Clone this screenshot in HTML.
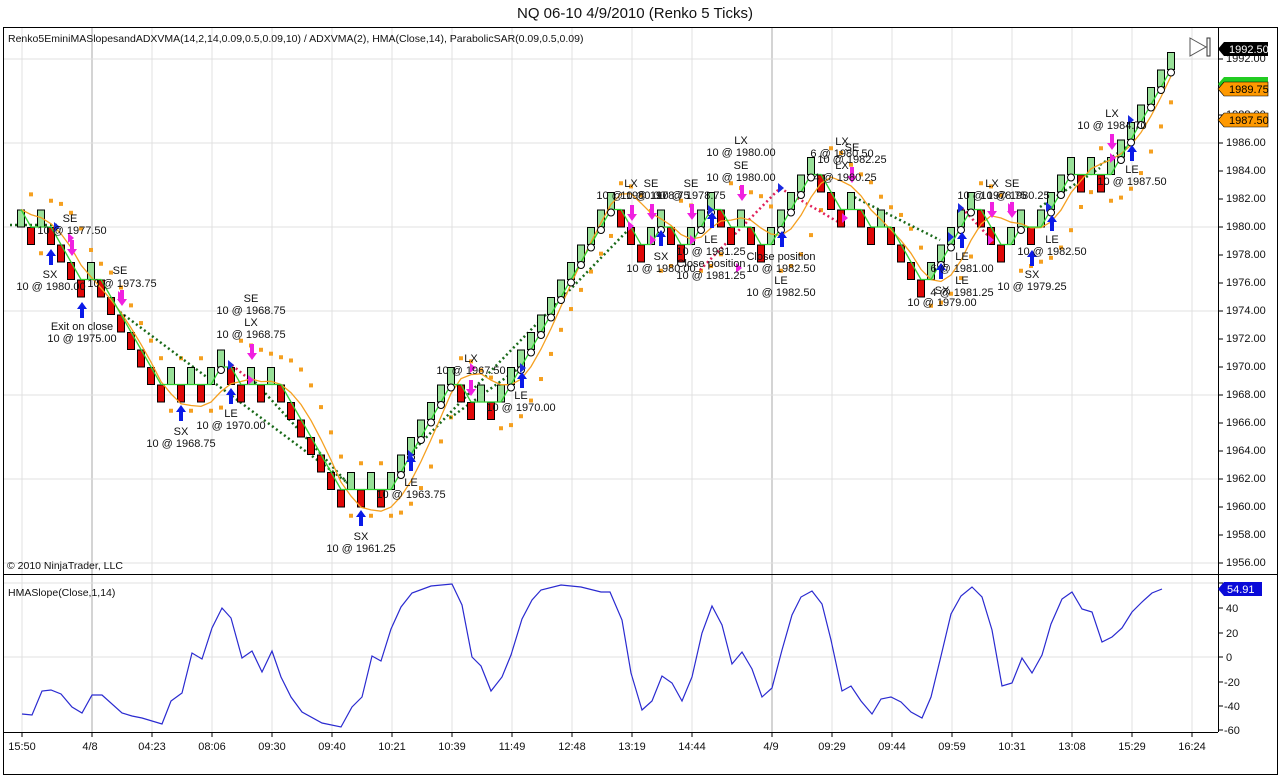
<!DOCTYPE html>
<html><head><meta charset="utf-8"><style>
html,body{margin:0;padding:0;background:#fff;}
svg{display:block;font-family:"Liberation Sans",Arial,sans-serif;}
.t{font-size:11px;fill:#111;text-anchor:middle;}
.a{font-size:10.5px;fill:#111;}
</style></head><body>
<svg id="s" width="1280" height="776" viewBox="0 0 1280 776" xmlns="http://www.w3.org/2000/svg">
<rect x="0" y="0" width="1280" height="776" fill="#fff"/>
<text x="635" y="18" font-size="15" text-anchor="middle" fill="#111">NQ 06-10  4/9/2010 (Renko 5 Ticks)</text>
<g id="grid"></g>
<g id="plot"></g>
<g id="ann">
<text class="t" x="70" y="222">SE</text><text class="t" x="72" y="234">10 @ 1977.50</text>
<text class="t" x="50" y="278">SX</text><text class="t" x="51" y="290">10 @ 1980.00</text>
<text class="t" x="120" y="274">SE</text><text class="t" x="122" y="287">10 @ 1973.75</text>
<text class="t" x="82" y="330">Exit on close</text><text class="t" x="82" y="342">10 @ 1975.00</text>
<text class="t" x="251" y="302">SE</text><text class="t" x="251" y="314">10 @ 1968.75</text>
<text class="t" x="251" y="326">LX</text><text class="t" x="251" y="338">10 @ 1968.75</text>
<text class="t" x="181" y="435">SX</text><text class="t" x="181" y="447">10 @ 1968.75</text>
<text class="t" x="231" y="417">LE</text><text class="t" x="231" y="429">10 @ 1970.00</text>
<text class="t" x="361" y="540">SX</text><text class="t" x="361" y="552">10 @ 1961.25</text>
<text class="t" x="411" y="486">LE</text><text class="t" x="411" y="498">10 @ 1963.75</text>
<text class="t" x="471" y="362">LX</text><text class="t" x="471" y="374">10 @ 1967.50</text>
<text class="t" x="521" y="399">LE</text><text class="t" x="521" y="411">10 @ 1970.00</text>
<text class="t" x="631" y="187">LX</text><text class="t" x="651" y="187">SE</text>
<text class="t" x="631" y="199">10 @ 1980.00</text><text class="t" x="655" y="199">10 @ 1978.75</text>
<text class="t" x="691" y="187">SE</text><text class="t" x="691" y="199">10 @ 1978.75</text>
<text class="t" x="661" y="260">SX</text><text class="t" x="661" y="272">10 @ 1980.00</text>
<text class="t" x="711" y="243">LE</text><text class="t" x="711" y="255">10 @ 1981.25</text>
<text class="t" x="711" y="267">Close position</text><text class="t" x="711" y="279">10 @ 1981.25</text>
<text class="t" x="741" y="144">LX</text><text class="t" x="741" y="156">10 @ 1980.00</text>
<text class="t" x="741" y="169">SE</text><text class="t" x="741" y="181">10 @ 1980.00</text>
<text class="t" x="781" y="260">Close position</text><text class="t" x="781" y="272">10 @ 1982.50</text>
<text class="t" x="781" y="284">LE</text><text class="t" x="781" y="296">10 @ 1982.50</text>
<text class="t" x="842" y="145">LX</text><text class="t" x="852" y="151">SE</text>
<text class="t" x="842" y="157">6 @ 1980.50</text><text class="t" x="852" y="163">10 @ 1982.25</text>
<text class="t" x="842" y="169">LX</text><text class="t" x="845" y="181">4 @ 1980.25</text>
<text class="t" x="992" y="187">LX</text><text class="t" x="1012" y="187">SE</text>
<text class="t" x="992" y="199">10 @ 1978.75</text><text class="t" x="1015" y="199">10 @ 1980.25</text>
<text class="t" x="962" y="260">LE</text><text class="t" x="962" y="272">6 @ 1981.00</text>
<text class="t" x="962" y="284">LE</text><text class="t" x="962" y="296">4 @ 1981.25</text>
<text class="t" x="942" y="294">SX</text><text class="t" x="942" y="306">10 @ 1979.00</text>
<text class="t" x="1032" y="278">SX</text><text class="t" x="1032" y="290">10 @ 1979.25</text>
<text class="t" x="1052" y="243">LE</text><text class="t" x="1052" y="255">10 @ 1982.50</text>
<text class="t" x="1112" y="117">LX</text><text class="t" x="1112" y="129">10 @ 1984.70</text>
<text class="t" x="1132" y="173">LE</text><text class="t" x="1132" y="185">10 @ 1987.50</text>
</g>
<g id="axes"></g>
<text class="a" x="8" y="42">Renko5EminiMASlopesandADXVMA(14,2,14,0.09,0.5,0.09,10) / ADXVMA(2), HMA(Close,14), ParabolicSAR(0.09,0.5,0.09)</text>
<text class="a" x="7" y="569">© 2010 NinjaTrader, LLC</text>
<text class="a" x="8" y="596">HMASlope(Close,1,14)</text>
<g font-size="11" fill="#111" text-anchor="middle">
<text x="22" y="750">15:50</text><text x="90" y="750">4/8</text><text x="152" y="750">04:23</text>
<text x="212" y="750">08:06</text><text x="272" y="750">09:30</text><text x="332" y="750">09:40</text>
<text x="392" y="750">10:21</text><text x="452" y="750">10:39</text><text x="512" y="750">11:49</text>
<text x="572" y="750">12:48</text><text x="632" y="750">13:19</text><text x="692" y="750">14:44</text>
<text x="771" y="750">4/9</text><text x="832" y="750">09:29</text><text x="892" y="750">09:44</text>
<text x="952" y="750">09:59</text><text x="1012" y="750">10:31</text><text x="1072" y="750">13:08</text>
<text x="1132" y="750">15:29</text><text x="1192" y="750">16:24</text>
</g>
<g font-size="11" fill="#111">
<text x="1226" y="62">1992.00</text><text x="1226" y="90">1990.00</text><text x="1226" y="118">1988.00</text>
<text x="1226" y="146">1986.00</text><text x="1226" y="174">1984.00</text><text x="1226" y="202">1982.00</text>
<text x="1226" y="230">1980.00</text><text x="1226" y="258">1978.00</text><text x="1226" y="286">1976.00</text>
<text x="1226" y="314">1974.00</text><text x="1226" y="342">1972.00</text><text x="1226" y="370">1970.00</text>
<text x="1226" y="398">1968.00</text><text x="1226" y="426">1966.00</text><text x="1226" y="454">1964.00</text>
<text x="1226" y="482">1962.00</text><text x="1226" y="510">1960.00</text><text x="1226" y="538">1958.00</text>
<text x="1226" y="566">1956.00</text>
<text x="1226" y="612">40</text><text x="1226" y="637">20</text><text x="1226" y="661">0</text>
<text x="1224" y="686">-20</text><text x="1224" y="710">-40</text><text x="1224" y="734">-60</text>
</g>
<path d="M1218,49 L1224,42 L1268,42 L1268,56 L1224,56 Z" fill="#000"/>
<text x="1229" y="53" font-size="11" fill="#fff">1992.50</text>
<path d="M1218,84 L1224,77 L1268,77 L1268,91 L1224,91 Z" fill="#2c2"/>
<path d="M1218,89 L1224,82 L1268,82 L1268,96 L1224,96 Z" fill="#f90" stroke="#000" stroke-width="0.6"/>
<text x="1229" y="93" font-size="11" fill="#000">1989.75</text>
<path d="M1218,120 L1224,113 L1268,113 L1268,127 L1224,127 Z" fill="#f90" stroke="#000" stroke-width="0.6"/>
<text x="1229" y="124" font-size="11" fill="#000">1987.50</text>
<path d="M1218,589 L1224,582 L1262,582 L1262,596 L1224,596 Z" fill="#0a0ad8"/>
<text x="1227" y="593" font-size="11" fill="#fff">54.91</text>
<path d="M1190,38 L1206,47 L1190,56 Z" fill="#fff" stroke="#555" stroke-width="1"/>
<rect x="1207" y="38" width="3" height="18" fill="#fff" stroke="#333" stroke-width="1"/>
</svg>
<script>
var NS="http://www.w3.org/2000/svg";
function el(p,t,a){var e=document.createElementNS(NS,t);for(var k in a)e.setAttribute(k,a[k]);p.appendChild(e);return e;}
var grid=document.getElementById('grid'),plot=document.getElementById('plot'),axes=document.getElementById('axes');
var vx=[22,92,152,212,272,332,392,452,512,572,632,692,772,832,892,952,1012,1072,1132,1192];
vx.forEach(function(x){var d=(x==92||x==772);el(grid,'line',{x1:x,y1:27,x2:x,y2:732,stroke:d?'#a8a8a8':'#e0e0e0','stroke-width':1});
 el(axes,'line',{x1:x,y1:732,x2:x,y2:737,stroke:'#000'});});
[59,143,227,311,395,479,563].forEach(function(y){el(grid,'line',{x1:3,y1:y,x2:1218,y2:y,stroke:'#e0e0e0'});});
[583,657].forEach(function(y){el(grid,'line',{x1:3,y1:y,x2:1218,y2:y,stroke:'#e0e0e0'});});
el(axes,'rect',{x:3.5,y:27.5,width:1274,height:747,fill:'none',stroke:'#000'});
el(axes,'line',{x1:3,y1:574.5,x2:1278,y2:574.5,stroke:'#000'});
el(axes,'line',{x1:1218.5,y1:27,x2:1218.5,y2:732,stroke:'#000'});
el(axes,'line',{x1:3,y1:732.5,x2:1218,y2:732.5,stroke:'#000'});
for(var p=1956;p<=1992;p+=2){var y=59+(1992-p)*14;el(axes,'line',{x1:1218,y1:y,x2:1223,y2:y,stroke:'#000'});}
[583,608,633,657,682,706,730].forEach(function(y){el(axes,'line',{x1:1218,y1:y,x2:1223,y2:y,stroke:'#000'});});
var s="G0 R-1 G0 R-1 R-2 R-3 R-4 G-3 R-4 R-5 R-6 R-7 R-8 R-9 R-10 G-9 R-10 G-9 R-10 G-9 G-8 R-9 R-10 G-9 R-10 G-9 R-10 R-11 R-12 R-13 R-14 R-15 R-16 G-15 R-16 G-15 R-16 G-15 G-14 G-13 G-12 G-11 G-10 G-9 R-10 R-11 G-10 R-11 G-10 G-9 G-8 G-7 G-6 G-5 G-4 G-3 G-2 G-1 "+
"G0 G1 R0 R-1 R-2 G-1 G0 R-1 R-2 G-1 G0 G1 R0 R-1 G0 R-1 R-2 G-1 G0 G1 G2 G3 R2 R1 R0 G1 R0 R-1 G0 R-1 "+
"R-2 R-3 R-4 G-3 G-2 G-1 G0 G1 R0 R-1 R-2 G-1 G0 R-1 G0 G1 G2 G3 R2 G3 R2 G3 G4 G5 G6 G7 G8 G9";
var B=s.split(' ').map(function(t){return {g:t[0]=='G',L:parseInt(t.slice(1))};});
function Y(b){return 227-17.5*b;}
var n=B.length,X=[],C=[],H=[],Lo=[];
for(var i=0;i<n;i++){X[i]=21+10*i;var b=B[i];C[i]=b.g?b.L+1:b.L;H[i]=b.L+1;Lo[i]=b.L;}
var up=false,af=0.09,ep=Lo[0],sar=H[0]+0.5,ps=[];
for(var i=1;i<n;i++){
 sar=sar+af*(ep-sar);
 if(up){ if(Lo[i]<sar){up=false;sar=ep;ep=Lo[i];af=0.09;} else {if(H[i]>ep){ep=H[i];af=Math.min(0.5,af+0.09);} }}
 else { if(H[i]>sar){up=true;sar=ep;ep=H[i];af=0.09;} else {if(Lo[i]<ep){ep=Lo[i];af=Math.min(0.5,af+0.09);} }}
 ps[i]=sar;
}
for(var i=1;i<n;i++){var y=Y(ps[i]+(ps[i]>C[i]?0.5:-0.5));el(plot,'rect',{x:X[i]-2,y:y-2,width:4,height:4,fill:'#f5a020'});}
var g=C[0],G=[];
for(var i=0;i<n;i++){if(C[i]>g+1)g=C[i]-1;else if(C[i]<g-1)g=C[i]+1;G[i]=g;}
function wma(a,p,i){var s=0,w=0;for(var k=0;k<p;k++){var j=Math.max(0,i-k);s+=a[j]*(p-k);w+=p-k;}return s/w;}
var raw=[];for(var i=0;i<n;i++)raw[i]=2*wma(C,7,i)-wma(C,14,i);
var Hm=[];for(var i=0;i<n;i++)Hm[i]=wma(raw,4,i);
function dl(x1,y1,x2,y2,c){el(plot,'line',{x1:x1,y1:y1,x2:x2,y2:y2,stroke:c,'stroke-width':2.5,'stroke-dasharray':'2,3'});}
var dg='#1a6a1a',rd='#e0205a';
dl(10,225,58,225,dg);dl(120,312,352,486,dg);dl(255,382,352,488,dg);dl(232,365,250,380,rd);
dl(412,452,632,226,dg);dl(450,418,522,366,dg);dl(700,270,780,188,rd);dl(780,188,845,226,rd);
dl(850,195,940,240,dg);dl(962,208,992,240,rd);dl(1040,207,1100,168,dg);dl(1100,165,1130,145,dg);
for(var i=0;i<n;i++){var b=B[i];el(plot,'rect',{x:X[i]-3.5,y:Y(b.L+1)+0.5,width:7,height:17,fill:b.g?'#98e098':'#e00808',stroke:'#000','stroke-width':1});}
var pg='',po='';
for(var i=0;i<n;i++){pg+=(i?'L':'M')+X[i]+','+Y(G[i]).toFixed(1);po+=(i?'L':'M')+X[i]+','+Y(Hm[i]).toFixed(1);}
el(plot,'path',{d:po,fill:'none',stroke:'#f5a020','stroke-width':1.3});
el(plot,'path',{d:pg,fill:'none',stroke:'#30d030','stroke-width':1.3});
for(var i=1;i<n;i++){if(B[i].g&&B[i-1].g){el(plot,'circle',{cx:X[i],cy:Y(B[i].L)+3,r:3.5,fill:'#fff',stroke:'#000','stroke-width':1});}}
function ua(x,y){el(plot,'path',{d:'M'+x+','+y+' l-5,7 h3 v9 h4 v-9 h3 z',fill:'#0a1ae8'});}
function da(x,y){el(plot,'path',{d:'M'+x+','+y+' l-5,-7 h3 v-9 h4 v9 h3 z',fill:'#f020e0'});}
[[51,249],[82,302],[181,405],[231,388],[361,510],[411,455],[522,372],[661,230],[712,212],[782,231],[941,263],[962,232],[1032,250],[1052,215],[1132,145]].forEach(function(a){ua(a[0],a[1]);});
[[72,256],[122,306],[252,360],[471,396],[632,221],[652,220],[692,220],[742,201],[852,183],[992,218],[1012,218],[1112,150]].forEach(function(a){da(a[0],a[1]);});
function tri(x,y,c,d){el(plot,'path',{d:'M'+x+','+(y-5)+' l'+(6*d)+',5 l'+(-6*d)+',5 z',fill:c});}
[[54,227],[228,365],[408,455],[520,368],[708,210],[778,188],[948,237],[958,208],[1046,207],[1128,120]].forEach(function(a){tri(a[0],a[1],'#1a2ae0',1);});
[[68,238],[118,296],[248,380],[470,368],[628,226],[650,240],[690,240],[736,268],[842,218],[988,240],[1008,208],[1110,158]].forEach(function(a){tri(a[0],a[1],'#f020e0',1);});
var sp=[[22,714],[32,715],[42,691],[51,690],[61,694],[72,707],[82,713],[92,695],[102,695],[122,713],[132,716],[142,718],[162,724],[171,701],[182,693],[192,653],[202,659],[212,628],[222,608],[231,618],[242,658],[252,651],[262,672],[272,651],[281,677],[291,697],[302,712],[322,723],[341,727],[352,707],[362,697],[372,656],[381,661],[391,629],[401,607],[412,593],[431,586],[452,584],[462,605],[472,657],[481,666],[491,691],[502,677],[511,655],[522,619],[532,600],[541,590],[561,585],[581,587],[601,592],[610,592],[622,620],[631,673],[642,710],[652,701],[662,676],[672,683],[682,701],[692,677],[702,633],[712,606],[722,625],[732,664],[742,652],[752,669],[762,697],[772,688],[782,650],[792,615],[801,597],[812,591],[822,604],[831,640],[842,691],[851,686],[861,701],[872,714],[881,699],[891,697],[901,702],[911,712],[922,718],[931,697],[941,656],[951,614],[961,596],[972,587],[982,597],[992,630],[1002,686],[1012,683],[1022,658],[1032,673],[1042,655],[1051,624],[1062,599],[1072,592],[1082,609],[1092,612],[1102,642],[1112,637],[1122,628],[1132,612],[1142,602],[1152,593],[1162,589]];
el(plot,'path',{d:'M'+sp.map(function(p){return p[0]+','+p[1];}).join('L'),fill:'none',stroke:'#2a2ad0','stroke-width':1.2});
</script>
</body></html>
